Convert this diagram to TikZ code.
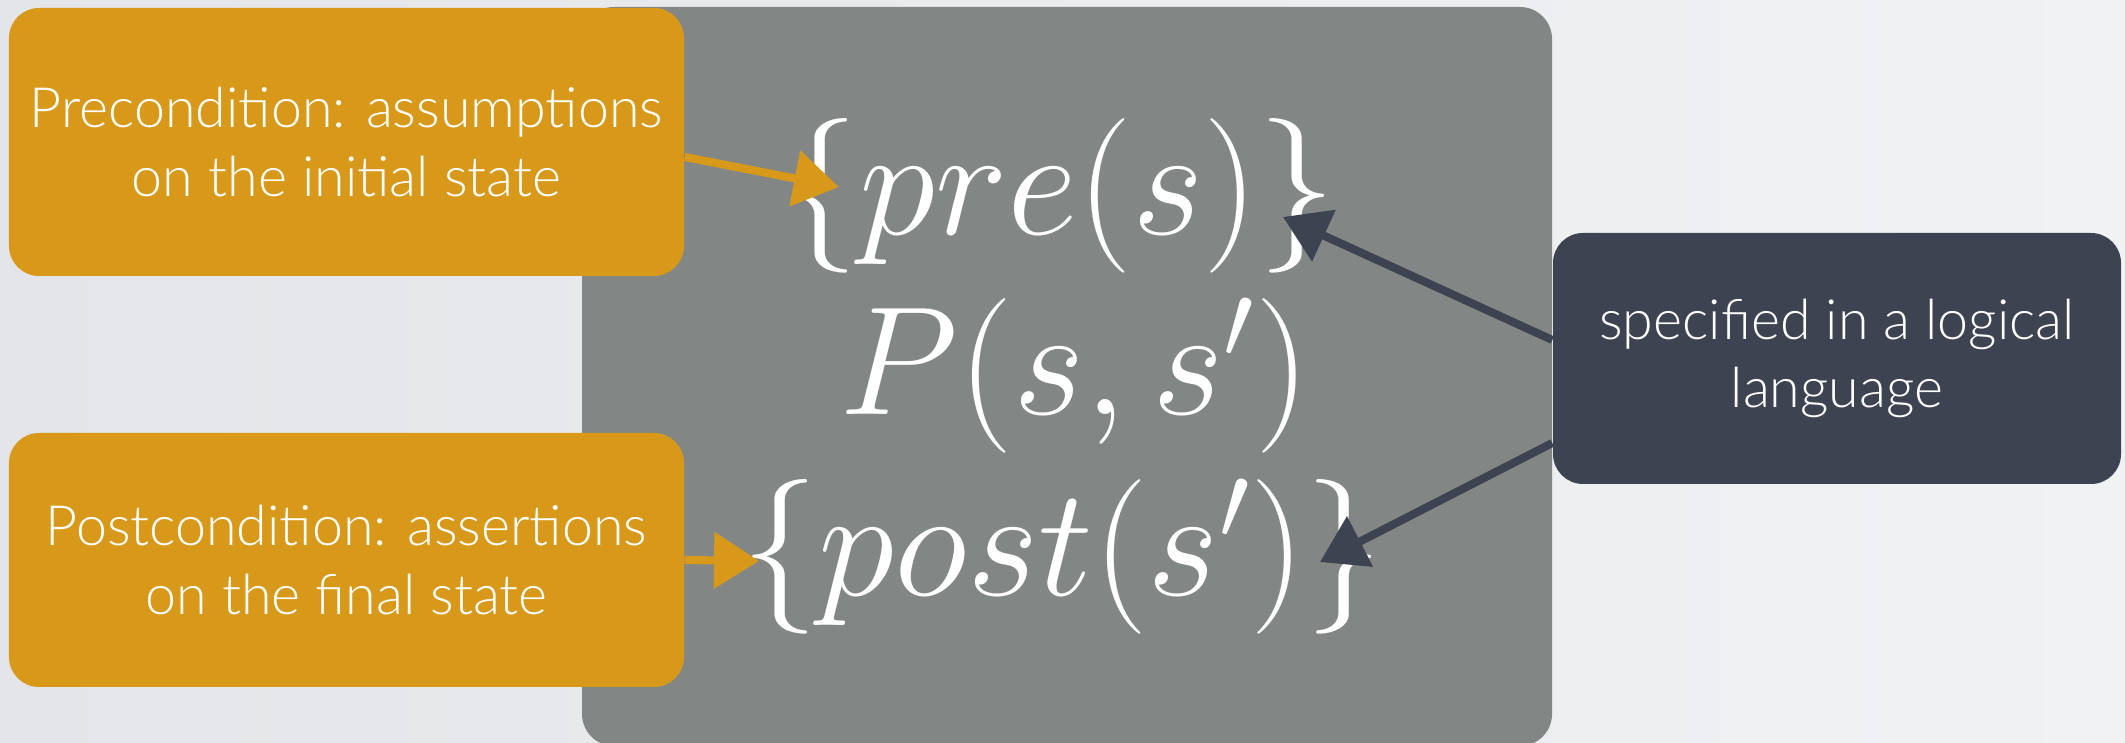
\RequirePackage{fix-cm}
\documentclass[tikz,border=0pt]{standalone}
\usepackage{amsmath,amssymb}
\usepackage{fontspec}
\setmainfont{Lato}[UprightFont=* Light]
\usetikzlibrary{arrows.meta}

\definecolor{slideorange}{RGB}{216,153,26}
\definecolor{slidegrey}{RGB}{130,135,133}
\definecolor{slidedark}{RGB}{61,67,81}
\definecolor{bgleft}{RGB}{227,229,232}
\definecolor{bgright}{RGB}{241,242,244}

\tikzset{
  notebox/.style={rounded corners=0.3cm, text=white, align=center, inner sep=0pt,
    font=\fontsize{15.8}{19.4}\selectfont},
  formula/.style={text=white, font=\fontsize{44}{50}\selectfont, anchor=base, inner sep=0pt},
  oarrow/.style={line width=2.3pt, slideorange, -{Triangle[length=0.45cm,width=0.55cm]}},
  darrow/.style={line width=2.3pt, slidedark, -{Triangle[length=0.45cm,width=0.55cm]}}
}

\begin{document}
\begin{tikzpicture}
\shade[left color=bgleft, right color=bgright] (0,0) rectangle (21.25,7.42);
\useasboundingbox (0,0) rectangle (21.25,7.42);
\fill[slidegrey, rounded corners=0.32cm] (5.82,-0.04) rectangle (15.52,7.35);
\node[notebox, fill=slideorange, minimum width=6.75cm, minimum height=2.68cm] (precond) at (3.465,6.00) {Precondition: assumptions\\on the initial state};
\node[notebox, fill=slideorange, minimum width=6.75cm, minimum height=2.54cm] (postcond) at (3.465,1.82) {Postcondition: assertions\\on the final state};
\node[notebox, fill=slidedark, minimum width=5.68cm, minimum height=2.51cm] (logic) at (18.37,3.835) {specified in a logical\\language};
\node[formula] (pre) at (10.59,5.07) {$\{pre(s)\}$};
\node[formula] (prog) at (10.75,3.27) {$P(s,s')$};
\node[formula] (post) at (10.62,1.46) {$\{post(s')\}$};
\coordinate (preTip) at (8.39,5.55);
\coordinate (postTip) at (7.59,1.81);
\coordinate (preTipR) at (12.83,5.25);
\coordinate (postTipR) at (13.20,1.80);
\draw[oarrow] ([yshift=-0.15cm]precond.east) -- (preTip);
\draw[oarrow] (postcond.east) -- (postTip);
\draw[darrow] ([yshift=0.185cm]logic.west) -- (preTipR);
\draw[darrow] ([yshift=-0.845cm]logic.west) -- (postTipR);
\end{tikzpicture}
\end{document}
